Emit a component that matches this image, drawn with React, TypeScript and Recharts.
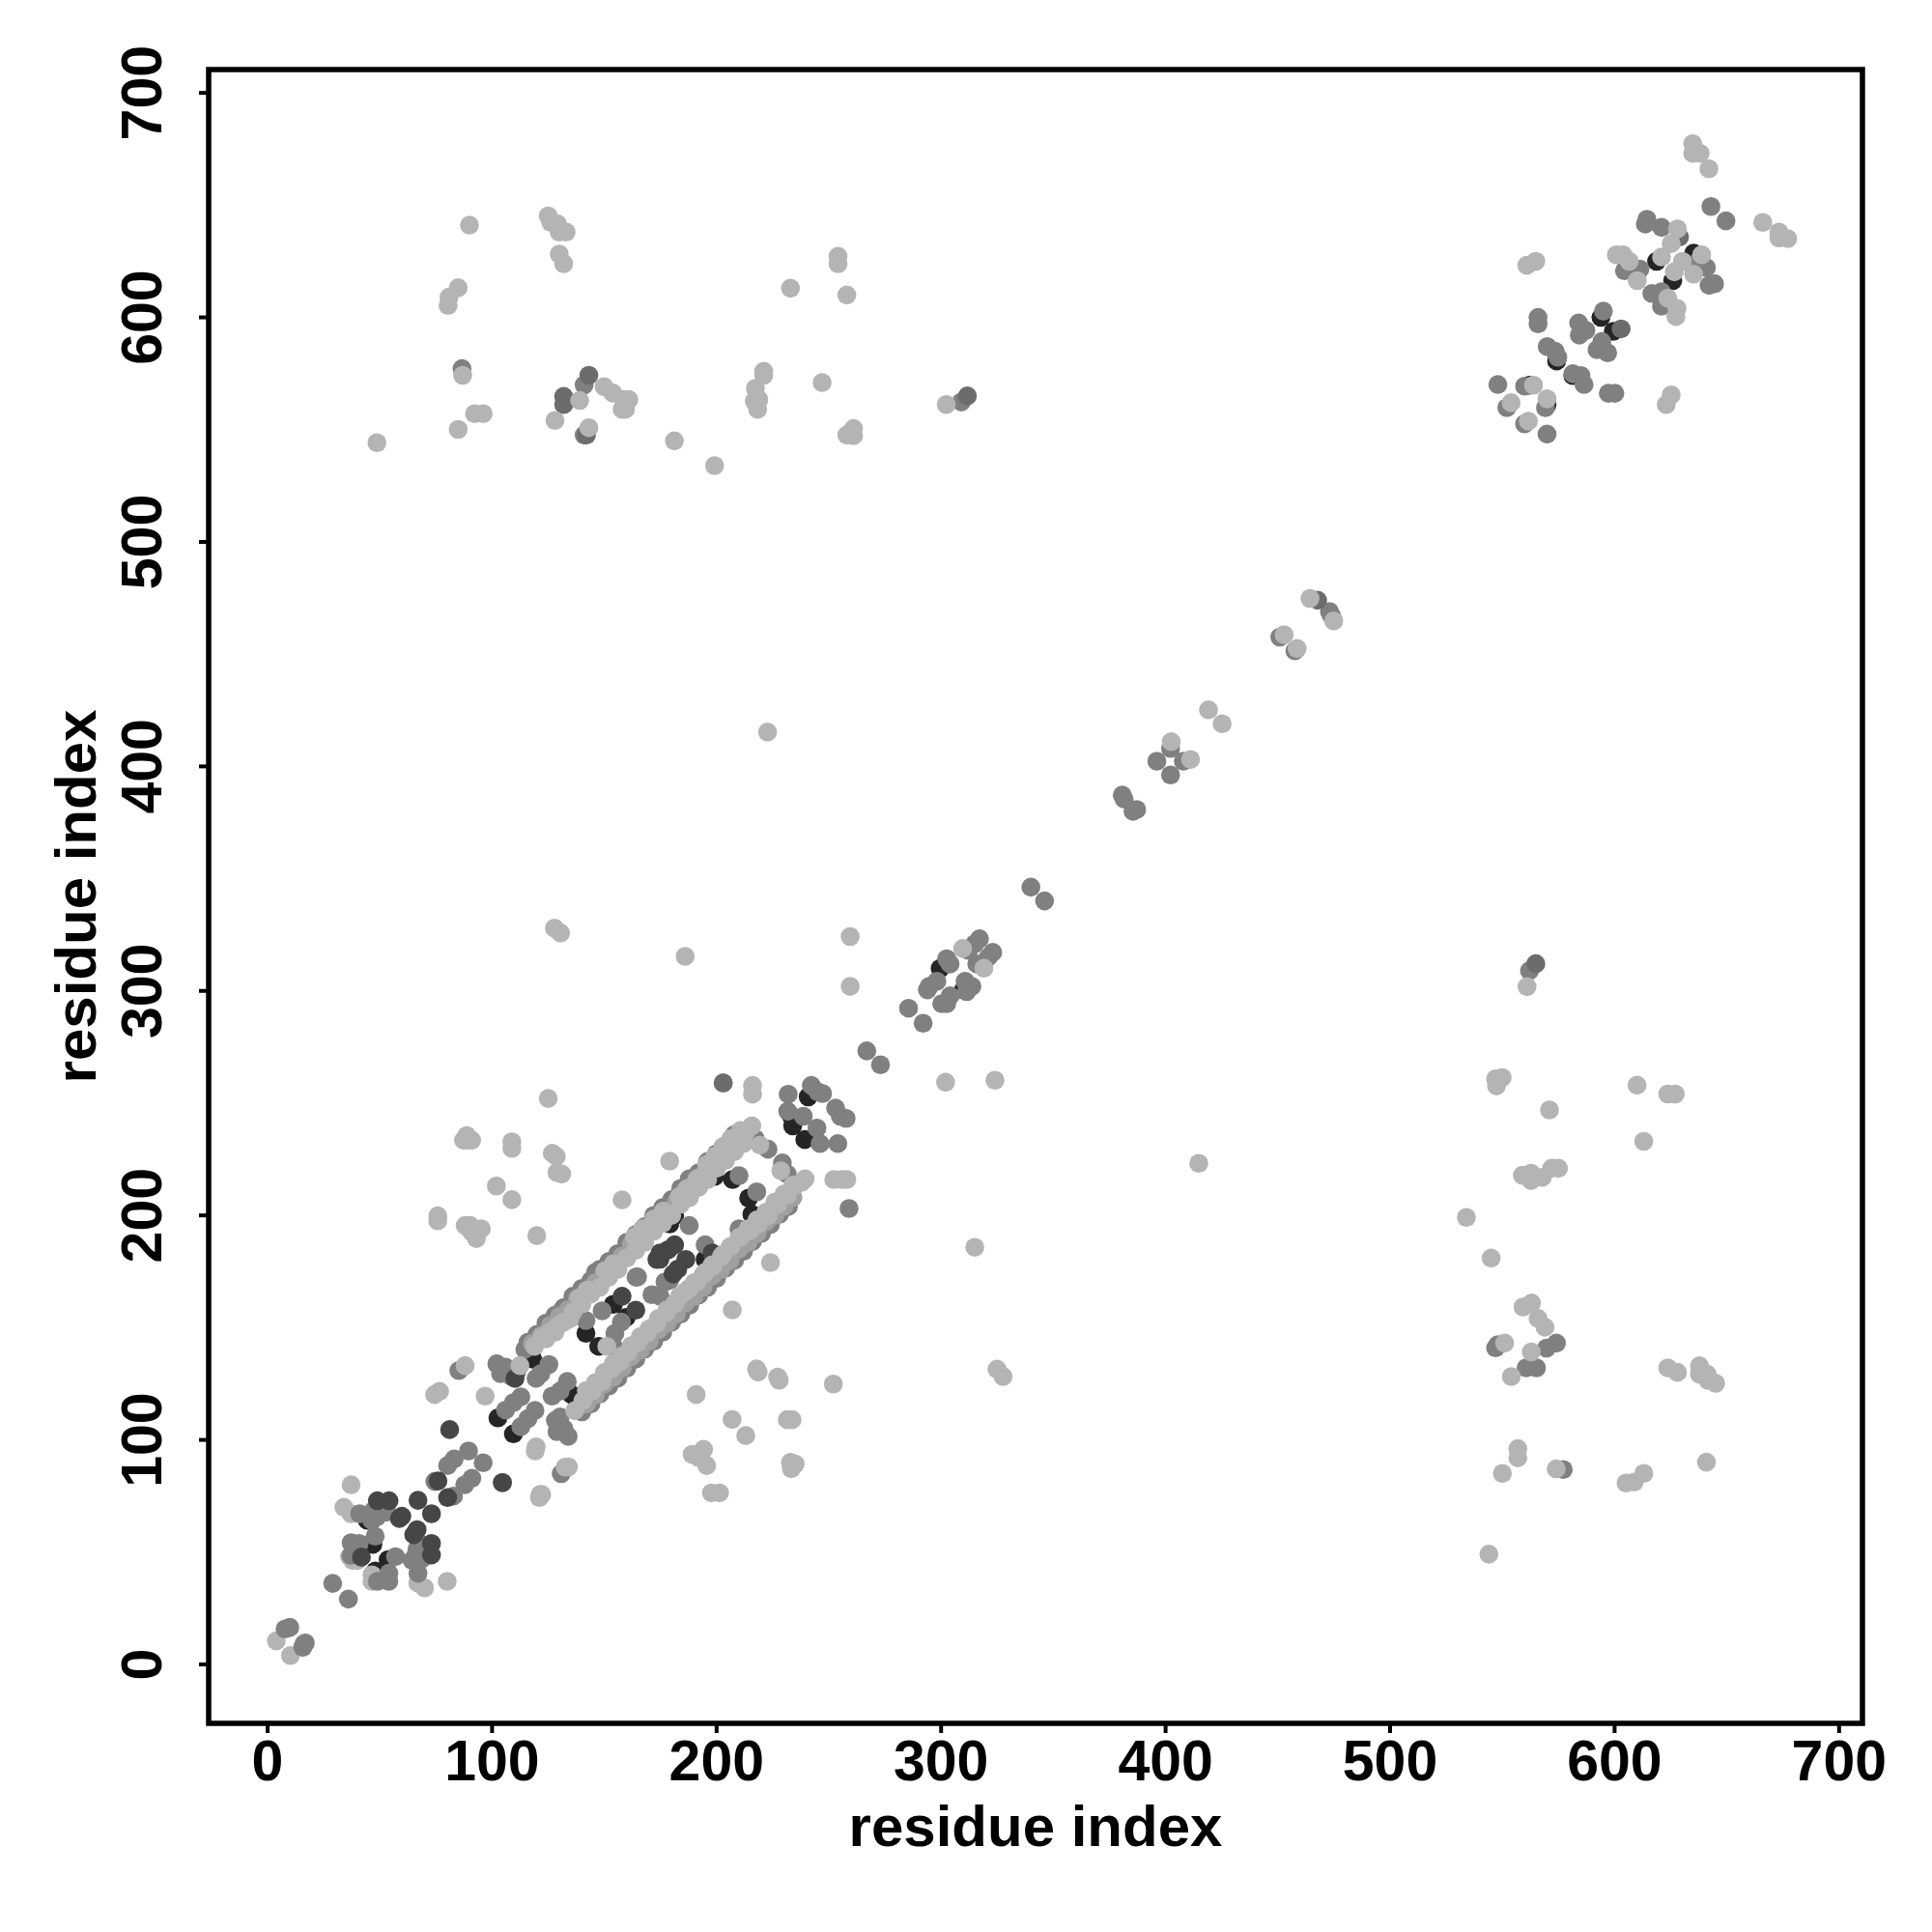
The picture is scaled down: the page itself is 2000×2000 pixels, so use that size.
import React from "react";
import {
  ScatterChart,
  Scatter,
  XAxis,
  YAxis,
  ReferenceArea,
  Label,
} from "recharts";

type Pair = [number, number];

const AXIS_TICKS = [0, 100, 200, 300, 400, 500, 600, 700];
const AXIS_DOMAIN = [-26.25, 710.4];
const AXIS_TITLE = "residue index";

const BLACK = "#252525";
const LIGHT = "#b4b4b4";
const PALE = "#a0a0a0";
const MID = "#808080";
const SLATE = "#6c6c6c";
const DARK = "#464646";

const blackContacts: Pair[] = [
  [44.4, 64.2], [46.9, 53.5], [53.7, 46.7], [48, 41.6], [102.6, 109.8], [109.5, 102.7], [118.1, 136],
  [135.4, 120.2], [141.8, 147.5], [147.5, 141.7], [154, 160.4], [159.7, 154.6], [181.3, 199.8], [179.1, 196.2],
  [199.2, 217.4], [207.1, 216], [214.3, 207.7], [215.7, 200.5], [194.9, 180.4], [240.8, 252.8], [233.3, 244.2],
  [233.9, 239.9], [239.3, 233.8], [299.6, 310], [310, 300.5], [618.7, 625], [635.2, 628.6], [625.9, 616.4],
  [593.9, 600], [599.4, 593.8], [574.2, 580.6], [581.4, 574.1], [562, 569.8], [569.9, 561.2],
];

const lightBackContacts: Pair[] = [
  [3.9, 10.5], [10.2, 4], [37.2, 80], [34, 70], [37.2, 67.1], [37.9, 46.3], [40, 46.3], [46.5, 39.9],
  [46.5, 37], [66.9, 36.3], [69.9, 34.1], [80, 37], [36.5, 48],
];

const midContacts: Pair[] = [
  [7.8, 15.8], [9.9, 16.5], [16.1, 9], [15.7, 7.6], [16.8, 9.6], [29, 36.1], [36, 29.1], [41, 67.1],
  [47.2, 68.5], [48.7, 65.7], [46.5, 64.2], [53, 67.8], [47.9, 57.1], [37.2, 54.2], [40.8, 53.9], [37.2, 48.5],
  [57, 48], [67.3, 54.2], [65.9, 48.5], [64.4, 46.3], [68.7, 47], [66.6, 51.3], [54, 40.6], [54, 37],
  [48.9, 37], [67, 40.6], [83.1, 91.5], [80.2, 88.6], [89.5, 95.1], [96, 89.8], [74.5, 81.5], [91, 82.9],
  [87.8, 80], [82.8, 75], [130.8, 85], [85.2, 130.9],
  [106, 113.3], [109.5, 116.6], [112.8, 119.2], [112.8, 105.9], [116, 109.5], [119.1, 113.1], [119.6, 127.4],
  [125.3, 133.6], [121.7, 129.5], [126.7, 119.5], [130.3, 121.7], [133.5, 126], [102.1, 133.9], [103.8, 129.5],
  [106, 132.4], [108.8, 128.1], [111, 130.3], [114.6, 140.3], [131, 157.5], [146.1, 174.7], [133.9, 101.6],
  [128.9, 103.7], [128.2, 108.7], [130.3, 110.2], [132, 105], [141.8, 153.2], [154, 141.7], [154.7, 147.5],
  [157.6, 152.5], [149, 157.5], [164.8, 172.6], [171.2, 164.7], [174.8, 164], [179.1, 171.1], [187.8, 195.5],
  [194.9, 186.9], [177, 170.4], [164.1, 172.5], [179.9, 205.5], [187.8, 216.3], [210, 217.7], [217.9, 210.5],
  [222.9, 229.5], [217.2, 234.2], [229.3, 223.4], [231.5, 218.4], [215.7, 188.3], [210, 194], [205.7, 180.4],
  [202.9, 259], [231.9, 254], [242.2, 257.9], [247.2, 254.3], [245.1, 255], [231.7, 246.4], [238.6, 244.2],
  [253, 247.8], [255.1, 244.2], [257.7, 243.2], [244.7, 238.9], [246.1, 232], [254, 232], [259, 203.1],
  [266.9, 273.3], [273, 267.1], [285.5, 292.3], [292, 285.6], [340, 346.2], [346.1, 340.1], [380.7, 387.2],
  [381.5, 385.5], [387.1, 380.8], [385.5, 380], [396.1, 402.3], [402.2, 396.2], [402.2, 408], [407.9, 402.3],
  [450.9, 457.6], [457.6, 451.5], [473.9, 467.1], [473, 469], [312.2, 318.1], [317.1, 323.2], [315, 321],
  [323, 317.2], [321, 315], [302.5, 314.3], [304, 312], [294.7, 302], [298.1, 304.3], [293.9, 300.5], [313.7, 302],
  [310.7, 304.3], [311.4, 299.7], [315.9, 312], [300.3, 294.3], [304, 297.8], [302.5, 294.3],
  [614.4, 643.7], [613.7, 641.6], [620.9, 640.1], [636.6, 624.4], [640.9, 622.2], [642.1, 614.3], [644.5, 615],
  [604.4, 620.8], [611.3, 621.5], [616.6, 610.7], [620.9, 611.4], [620.9, 605], [565.9, 600], [565.9, 597.1],
  [595, 602.8], [584, 597.5], [587.2, 594.2], [584.3, 592.1], [594.3, 589.2], [592.2, 585.6], [596.9, 584.2],
  [570, 587], [573.5, 584.9], [574.7, 582.3], [581.4, 574.9], [585, 574.1], [586.4, 570.1], [597.2, 566.2],
  [600.1, 566.2], [548, 570.1], [559.9, 569.4], [552, 559.8], [569.2, 559.8], [559.9, 552.6], [569.9, 548],
  [642.9, 649.4], [649.6, 643], [562.1, 309], [560.6, 132.1], [565.2, 132.1], [569.7, 140.9], [574.1, 143.1],
  [548, 142.4], [547, 141], [577.1, 86.8], [86.6, 577.2], [141, 569.9], [141, 547.6], [309, 562.3],
];

// darker rims showing along the outside of the two long strands
const strandRimContacts: Pair[] = [
  [116, 143.5], [120, 147], [124, 152], [128, 155.5], [132, 159], [136, 164], [140, 167.5], [144, 171], [148, 176],
  [152, 179.5], [156, 183], [160, 188], [164, 191.5], [168, 195], [172, 200], [176, 203.5], [180, 207], [184, 212],
  [188, 215.5], [192, 219], [196, 224], [200, 227.5], [204, 231], [208, 236],
  [140, 112.5], [144, 116], [148, 120.5], [152, 124], [156, 127.5], [160, 132], [164, 136], [168, 140.5], [172, 144],
  [176, 148], [180, 152.5], [184, 156], [188, 160], [192, 164.5], [196, 168], [200, 172], [204, 176.5], [208, 180],
  [212, 184], [216, 188.5], [220, 192], [224, 196], [228, 200.5], [232, 204],
];

const slateContacts: Pair[] = [
  [564.9, 312.1], [131.9, 564.8], [131.9, 561.2], [143.1, 574.2], [142, 547.6], [311.7, 565], [628.9, 635.8],
  [602.9, 594.9], [203, 259], [467.7, 474], [104.6, 81],
];

const darkContacts: Pair[] = [
  [48.9, 72.9], [54.1, 72.9], [59.8, 66], [58.7, 65], [67, 73.1], [73, 67.1], [66.6, 60], [65.1, 57.8],
  [41.8, 47.8], [73, 53.9], [73, 48.8], [75.9, 81.7], [80.2, 74.3], [104.6, 81], [81.1, 104.6],
  [110.2, 127.4], [157.9, 164], [164, 157.8], [174.8, 180.5], [174.8, 183.3], [178.4, 184.7], [181.3, 186.9],
  [173.4, 180.4], [186.3, 180.4], [182.7, 176.1], [180.6, 173.9], [198, 183.3],
];

const paleStrandContacts: Pair[] = [
  [118, 143], [122, 146.5], [126, 151], [130, 155], [134, 158], [138, 163], [142, 166.5], [146, 170], [150, 175],
  [154, 178.5], [158, 182], [162, 187], [166, 190], [170, 194], [174, 199], [178, 202], [182, 206], [186, 211],
  [190, 214], [194, 218], [198, 223], [202, 226], [206, 230],
  [142, 116], [146, 120], [150, 125], [154, 128], [158, 132], [162, 137], [166, 140], [170, 144], [174, 149],
  [178, 152], [182, 156], [186, 161], [190, 164], [194, 168], [198, 173], [202, 176], [206, 180], [210, 185],
  [214, 188], [218, 192], [222, 197], [226, 200], [230, 204], [234, 208],
];

const lightContacts: Pair[] = [
  [119.2, 95.1], [132.6, 87.9], [134, 88], [121.1, 74.3], [122.1, 75.7], [112.4, 133.1], [118.9, 141.7], [122.4, 146],
  [126, 148.2], [129.6, 151], [134.6, 153.9], [138.9, 163.3], [142.5, 166.8], [150.4, 175.4], [154, 178.3],
  [136.8, 113], [140.4, 117.4], [144.7, 121.7], [149, 126], [153.3, 131.7], [156.9, 134.6], [160.5, 138.9],
  [164.8, 143.2], [169, 147.5], [173.4, 151.8], [177.7, 156.8], [181.2, 160.4], [151.1, 141.7], [163.4, 190.5],
  [167, 194], [172, 198.3], [176.3, 201.9], [183.4, 208.4], [187, 212], [191.3, 216.3], [195.6, 222.7],
  [199.2, 226.3], [202.8, 230.6], [206.4, 234.2], [210.7, 237.8], [215.7, 239.9], [212.9, 237.1], [219.3, 231.3],
  [228.6, 219.9], [237.9, 214.8], [235.1, 213.4], [239.4, 216.3], [231.5, 209.1], [227.2, 204.8], [222.9, 199.8],
  [218.6, 196.2], [215, 193.3], [210.7, 190.5], [206.4, 186.2], [202.8, 182.6], [198.5, 177.5], [194.9, 174.7],
  [191.3, 170.4], [187.8, 167.5], [183.4, 163.9],
  [124, 145], [128, 148], [132, 152.5], [136, 157], [140, 160.5], [144, 165], [148, 168], [152, 172.5], [156, 176],
  [160, 181], [164, 184.5], [168, 188], [172, 193], [176, 196.5], [180, 200], [184, 205], [188, 208], [192, 212.5],
  [196, 216], [200, 221], [204, 224.5], [208, 228.5], [212, 232],
  [142, 122], [146, 125.5], [150, 130], [154, 134], [158, 137.5], [162, 142], [166, 146], [170, 149.5], [174, 154],
  [178, 158], [182, 161.5], [186, 166], [190, 170], [194, 173.5], [198, 178], [202, 181.5], [206, 186], [210, 190],
  [214, 194], [218, 198], [222, 201.5], [226, 206], [230, 209.5], [234, 213.5],
  [216, 257.9], [216, 254], [255.8, 216], [252.2, 216], [258, 216], [125, 252.1], [88.7, 233.5], [87.3, 233.5],
  [90.9, 233.5], [88.7, 235.6], [108.8, 232.8], [108.8, 229.9], [126.8, 227.7], [128.6, 226.3], [131, 218.4],
  [128.9, 219.1], [101.9, 213.1], [108.8, 207], [179.1, 224.2], [157.9, 206.9], [119.9, 191], [75.8, 199.8],
  [75.8, 197.6], [88, 195.5], [90.2, 195.5], [95.2, 194], [93, 189.7], [90.9, 192.6], [224, 179], [207, 157.9],
  [217.8, 131.6], [218.5, 130.2], [227.2, 128], [227.9, 126.6], [252, 124.9], [190.9, 120.2], [206.9, 109.1],
  [213, 101.9], [231.5, 109], [233.6, 109], [194.2, 95.8], [189.1, 93.6], [192, 92.2], [195.6, 88.6], [232.9, 90],
  [235, 89.3], [233.3, 87.2], [197.7, 76.4], [201.3, 76.4], [96.9, 119.5], [76.6, 121.6], [74.4, 120.2], [88, 133.1],
  [119.6, 96.9], [121.4, 75.7],
  [302, 259.3], [324, 260.2], [402.5, 411], [411.1, 403.1], [419.1, 425.2], [425.2, 419], [452.8, 458.7],
  [458.6, 452.5], [464.3, 474.8], [474.9, 464.8], [309.6, 318.9], [319.1, 310.1], [259.5, 324.2], [127.8, 328],
  [130.5, 325.8], [186, 315.4], [259.5, 302], [222.7, 415.3], [414.8, 223.2], [315, 185.8], [324.9, 131.5], [327.6, 128.2],
  [89.9, 641.1], [125, 645.2], [126.2, 642.3], [129.2, 641.6], [129.9, 638], [133, 638], [129.9, 628.2], [131.9, 623.9],
  [84.9, 613.2], [80.8, 609], [80.4, 605.3], [86.9, 574.2], [92.2, 557.1], [96, 557.1], [84.9, 550.1], [139, 563],
  [128, 554.1], [149.9, 569.1], [153.8, 566.3], [158.6, 563.4], [160.9, 563.4], [157.9, 559.1], [159.4, 559.1],
  [143.1, 550.9], [181.2, 545], [199.1, 534], [221, 576], [221, 574.2], [217.3, 568.4], [218.8, 563.4], [216.8, 562.7],
  [218.3, 559.1], [247, 571], [232.9, 613], [254.1, 627.2], [254.1, 623.9], [258, 610], [261, 550.5], [258, 547.6],
  [261, 547.3], [48.7, 544.2], [302.3, 561.2],
  [634.8, 677.4], [634.8, 673.1], [638.1, 673.1], [642, 666.2], [666, 642.3], [673.2, 638], [673.2, 635.4], [677.1, 635.1],
  [628, 639.4], [625.2, 632.9], [620.9, 626.9], [638.8, 627.9], [630.2, 625], [635.2, 619.3], [626.6, 620.3],
  [600.8, 627.9], [603.7, 627.9], [606.5, 625], [610.1, 616.4], [623.7, 608.6], [627.8, 604], [627.3, 600.4],
  [564.9, 625], [560.9, 623.2], [625.2, 565.5], [623, 561.2], [563.9, 569.8], [553.9, 562], [569.9, 563.8], [561.6, 553.8],
  [561, 301.9], [549.9, 261.4], [547, 260.8], [547.4, 257.7], [571, 247], [610, 258], [623.7, 254.1], [627, 254.1],
  [613, 233], [558.9, 217.9], [562.8, 218.8], [562.8, 215.5], [567.8, 217], [575, 221], [572, 221], [534, 199.1], [545, 181],
  [559.2, 159.2], [563, 161], [565.9, 154.1], [569, 150.2], [551, 143.1], [562.9, 139.2], [554, 128.2], [623.7, 132.1],
  [628, 130.1], [637.8, 133], [637.8, 129.3], [641.2, 129.3], [641.7, 126.5], [645, 125.2], [556.9, 96.1], [556.9, 92],
  [550, 85.1], [574, 87.1], [605.1, 80.8], [608.7, 81.2], [613, 85.1], [640.9, 90.1], [544, 49.1],
];

const LAYERS: { name: string; pairs: Pair[]; fill: string }[] = [
  { name: "black", pairs: blackContacts, fill: BLACK },
  { name: "lightBack", pairs: lightBackContacts, fill: LIGHT },
  { name: "mid", pairs: midContacts, fill: MID },
  { name: "strandRim", pairs: strandRimContacts, fill: MID },
  { name: "slate", pairs: slateContacts, fill: SLATE },
  { name: "dark", pairs: darkContacts, fill: DARK },
  { name: "paleStrand", pairs: paleStrandContacts, fill: PALE },
  { name: "light", pairs: lightContacts, fill: LIGHT },
];

const toPoints = (pairs: Pair[]) => pairs.map(([x, y]) => ({ x, y }));

const FONT = "'Liberation Sans', Arial, sans-serif";
const tickStyle = { fontFamily: FONT, fontWeight: 700, fontSize: 59, fill: "#000" };
const titleStyle = { fontFamily: FONT, fontWeight: 700, fontSize: 60, fill: "#000" };

const Dot = (props: any) => <circle cx={props.cx} cy={props.cy} r={9.8} fill={props.fill} />;

const XTick = ({ x, y, payload }: any) => (
  <text x={x} y={y + 47} textAnchor="middle" {...tickStyle}>
    {payload.value}
  </text>
);

const YTick = ({ x, y, payload }: any) => (
  <text
    x={x - 37}
    y={y}
    textAnchor="middle"
    transform={`rotate(-90, ${x - 37}, ${y})`}
    {...tickStyle}
  >
    {payload.value}
  </text>
);

const XTitle = () => (
  <text x={1072} y={1911} textAnchor="middle" {...titleStyle}>
    {AXIS_TITLE}
  </text>
);

const YTitle = () => (
  <text x={99} y={928} textAnchor="middle" transform="rotate(-90, 99, 928)" {...titleStyle}>
    {AXIS_TITLE}
  </text>
);

const App = () => {
  return (
    <div style={{ position: "absolute", left: 0, top: 0, background: "#fff" }}>
      <ScatterChart
        width={2000}
        height={2000}
        margin={{ top: 72, right: 72, bottom: 116, left: 116 }}
      >
        <XAxis
          type="number"
          dataKey="x"
          domain={AXIS_DOMAIN}
          ticks={AXIS_TICKS}
          allowDataOverflow
          height={100}
          axisLine={false}
          tickSize={10}
          tickLine={{ stroke: "#000", strokeWidth: 4 }}
          tick={<XTick />}
          interval={0}
        >
          <Label content={<XTitle />} />
        </XAxis>
        <YAxis
          type="number"
          dataKey="y"
          domain={AXIS_DOMAIN}
          ticks={AXIS_TICKS}
          allowDataOverflow
          width={100}
          axisLine={false}
          tickSize={10}
          tickLine={{ stroke: "#000", strokeWidth: 4 }}
          tick={<YTick />}
          interval={0}
        >
          <Label content={<YTitle />} />
        </YAxis>
        {LAYERS.map((layer) => (
          <Scatter
            key={layer.name}
            name={layer.name}
            data={toPoints(layer.pairs)}
            fill={layer.fill}
            shape={<Dot />}
            isAnimationActive={false}
          />
        ))}
        <ReferenceArea
          x1={AXIS_DOMAIN[0]}
          x2={AXIS_DOMAIN[1]}
          y1={AXIS_DOMAIN[0]}
          y2={AXIS_DOMAIN[1]}
          fill="none"
          stroke="#000"
          strokeWidth={5.5}
          ifOverflow="visible"
        />
      </ScatterChart>
    </div>
  );
};

export default App;
